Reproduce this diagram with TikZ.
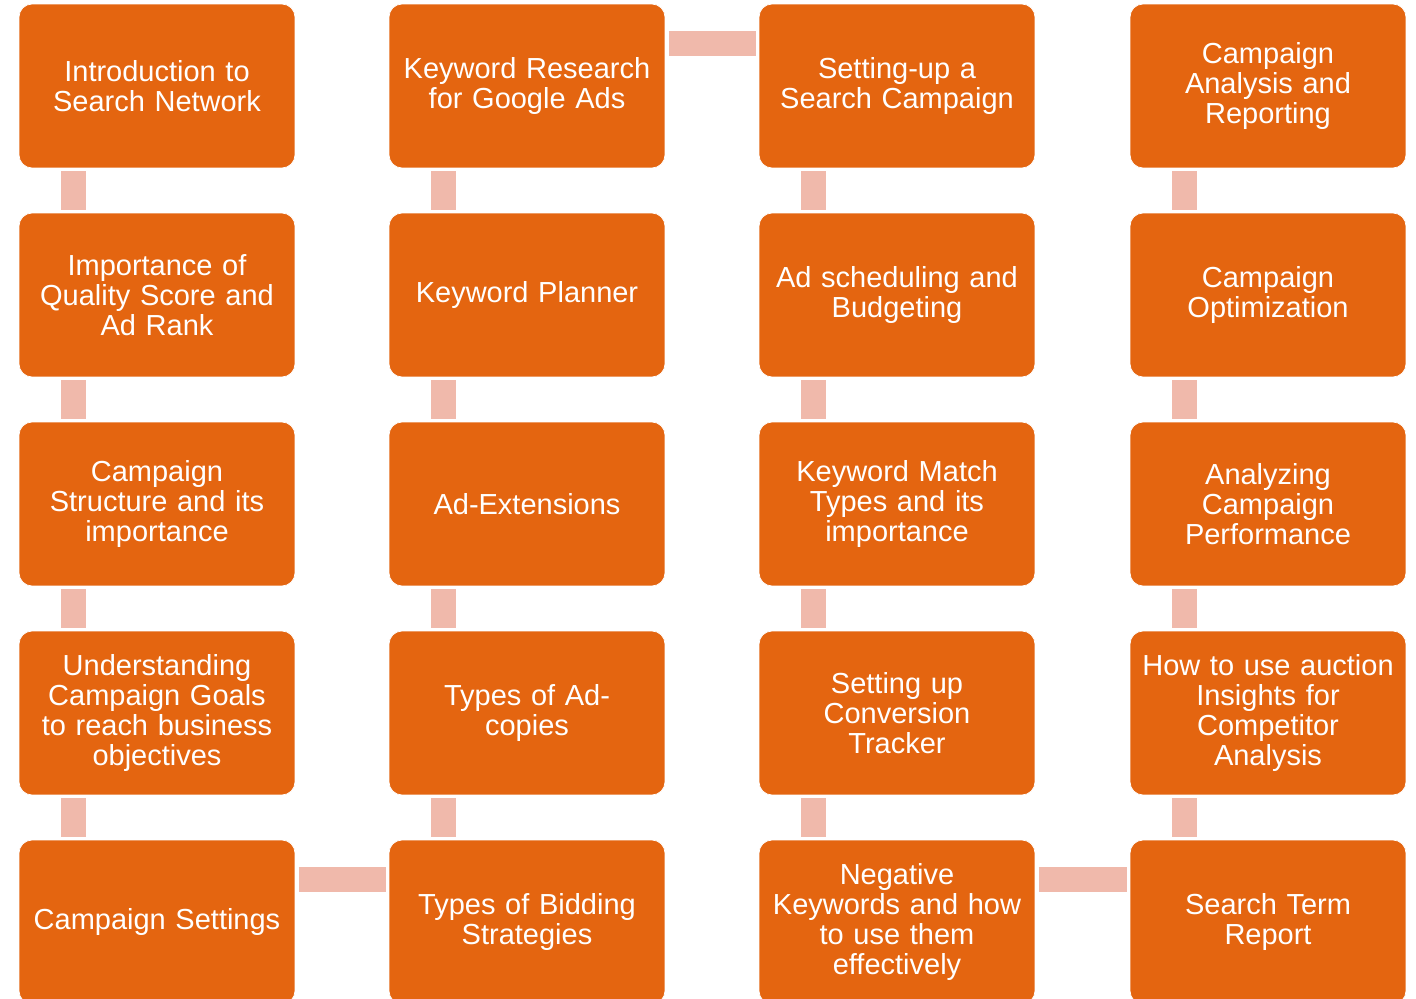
\documentclass[tikz,border=0pt]{standalone}
\usepackage{fontspec}
\setmainfont{Liberation Sans}
\usetikzlibrary{positioning}
\definecolor{boxorange}{RGB}{228,101,16}
\definecolor{linkpink}{RGB}{240,185,171}
\tikzset{
    topic/.style={rectangle, rounded corners=0.26cm, fill=boxorange, draw=white, line width=0.4pt,
        minimum width=5.52cm, minimum height=3.28cm, text width=5.3cm, align=center,
        text=white, font=\fontsize{16.5}{17.1}\selectfont, inner sep=0pt},
    vlink/.style={linkpink, line width=0.5cm, shorten <=0.06cm, shorten >=0.06cm},
    hlink/.style={linkpink, line width=0.5cm, shorten <=0.07cm, shorten >=0.06cm}
}

\begin{document}
\begin{tikzpicture}[x=0.02cm,y=-0.02cm]
    \clip (0,0) rectangle (1416,998);
    \fill[white] (0,0) rectangle (1416,998);

    % first column
    \node[topic] (intro) at (157,86) {Introduction to\\Search Network};
    \node[topic] (quality) at (157,295) {Importance of\\Quality Score and\\Ad Rank};
    \node[topic] (structure) at (157,504) {Campaign\\Structure and its\\importance};
    \node[topic] (goals) at (157,713) {Understanding\\Campaign Goals\\to reach business\\objectives};
    \node[topic] (settings) at (157,922) {Campaign Settings};

    % second column
    \node[topic] (research) at (527,86) {Keyword Research\\for Google Ads};
    \node[topic] (planner) at (527,295) {Keyword Planner};
    \node[topic] (extensions) at (527,504) {Ad-Extensions};
    \node[topic] (copies) at (527,713) {Types of Ad-\\copies};
    \node[topic] (bidding) at (527,922) {Types of Bidding\\Strategies};

    % third column
    \node[topic] (setup) at (897,86) {Setting-up a\\Search Campaign};
    \node[topic] (scheduling) at (897,295) {Ad scheduling and\\Budgeting};
    \node[topic] (matchtypes) at (897,504) {Keyword Match\\Types and its\\importance};
    \node[topic] (conversion) at (897,713) {Setting up\\Conversion\\Tracker};
    \node[topic] (negative) at (897,922) {Negative\\Keywords and how\\to use them\\effectively};

    % fourth column
    \node[topic] (analysis) at (1268,86) {Campaign\\Analysis and\\Reporting};
    \node[topic] (optimize) at (1268,295) {Campaign\\Optimization};
    \node[topic] (performance) at (1268,504) {Analyzing\\Campaign\\Performance};
    \node[topic] (auction) at (1268,713) {How to use auction\\Insights for\\Competitor\\Analysis};
    \node[topic] (searchterm) at (1268,922) {Search Term\\Report};

    % Links down each column
    \foreach \source/\target in {intro/quality, quality/structure, structure/goals, goals/settings,
            research/planner, planner/extensions, extensions/copies, copies/bidding,
            setup/scheduling, scheduling/matchtypes, matchtypes/conversion, conversion/negative,
            analysis/optimize, optimize/performance, performance/auction, auction/searchterm} {
            \draw[vlink] ([xshift=1.09cm]\source.south west) -- ([xshift=1.09cm]\target.north west);
        }

    % Links across
    \foreach \source/\target in {settings/bidding, research/setup, negative/searchterm} {
            \draw[hlink] ([yshift=-0.79cm]\source.north east) -- ([yshift=-0.79cm]\target.north west);
        }
\end{tikzpicture}
\end{document}
